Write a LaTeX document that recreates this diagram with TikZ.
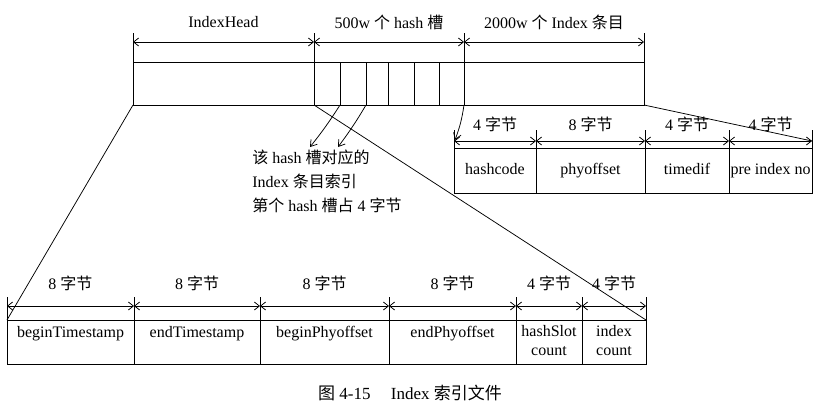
\documentclass[tikz,border=0pt]{standalone}
\usepackage{fontspec}
\setmainfont{Liberation Serif}
\newfontfamily\cjk{Noto Sans CJK SC}
\newcommand{\zh}[1]{{\cjk #1}}
\usetikzlibrary{arrows.meta}

\tikzset{
  txt/.style={font=\fontsize{16}{19}\selectfont},
  cell/.style={draw, txt, anchor=north west, inner sep=0pt, outer sep=0pt, align=center},
  field/.style={cell, text height=11pt, text depth=4pt},
  dim/.style={{Straight Barb[length=5pt,width=8pt]}-{Straight Barb[length=5pt,width=8pt]}},
  pointer/.style={-{Straight Barb[length=6pt,width=8pt]}},
}

\begin{document}
\begin{tikzpicture}[x=1pt,y=-1pt,line width=0.75pt]
  \useasboundingbox (0,0) rectangle (820,407);

  % index file bar
  \node[cell, minimum width=181, minimum height=43] (ihead) at (133,62) {};
  \node[cell, minimum width=26, minimum height=43] (s1) at (314,62) {};
  \node[cell, minimum width=26, minimum height=43] (s2) at (340,62) {};
  \node[cell, minimum width=22, minimum height=43] (s3) at (366,62) {};
  \node[cell, minimum width=26, minimum height=43] (s4) at (388,62) {};
  \node[cell, minimum width=25, minimum height=43] (s5) at (414,62) {};
  \node[cell, minimum width=25, minimum height=43] (s6) at (439,62) {};
  \node[cell, minimum width=180, minimum height=43] (ientry) at (464,62) {};

  \draw[dim] ([yshift=20pt]ihead.north west) -- ([yshift=20pt]ihead.north east)
     node[txt, midway, yshift=20pt] {IndexHead};
  \draw[dim] ([yshift=20pt]s1.north west) -- ([yshift=20pt]s6.north east)
     node[txt, midway, yshift=20pt] {500w \zh{个} hash \zh{槽}};
  \draw[dim] ([yshift=20pt]ientry.north west) -- ([yshift=20pt]ientry.north east)
     node[txt, midway, yshift=20pt] {2000w \zh{个} Index \zh{条目}};
  \foreach \c in {ihead.north west, s1.north west, ientry.north west, ientry.north east}
    \draw ([yshift=29pt]\c) -- (\c);

  % index entry
  \node[field, minimum width=82, minimum height=45] (hc) at (454,148) {hashcode};
  \node[field, minimum width=109, minimum height=45] (po) at (536,148) {phyoffset};
  \node[field, minimum width=84, minimum height=45] (td) at (645,148) {timedif};
  \node[field, minimum width=83, minimum height=45] (pin) at (729,148) {pre index no};
  \foreach \c/\n in {hc/4, po/8, td/4, pin/4} {
    \draw[dim] ([yshift=7pt]\c.north west) -- ([yshift=7pt]\c.north east)
       node[txt, midway, yshift=17pt] {\n\ \zh{字节}};
    \draw ([yshift=18pt]\c.north west) -- (\c.north west);
  }
  \draw ([yshift=18pt]pin.north east) -- (pin.north east);
  \coordinate (pinend) at ([yshift=7pt]pin.north east);

  % index head
  \node[cell, minimum width=127, minimum height=44] (bts) at (7,320) {beginTimestamp\\[-4pt]\strut};
  \node[cell, minimum width=126, minimum height=44] (ets) at (134,320) {endTimestamp\\[-4pt]\strut};
  \node[cell, minimum width=129, minimum height=44] (bpo) at (260,320) {beginPhyoffset\\[-4pt]\strut};
  \node[cell, minimum width=127, minimum height=44] (epo) at (389,320) {endPhyoffset\\[-4pt]\strut};
  \node[cell, minimum width=66, minimum height=44, text depth=3pt] (hsc) at (516,320) {hashSlot\\count};
  \node[cell, minimum width=64, minimum height=44, text depth=3pt] (ic) at (582,320) {index\\count};
  \foreach \c/\n in {bts/8, ets/8, bpo/8, epo/8, hsc/4, ic/4} {
    \draw[dim] ([yshift=14pt]\c.north west) -- ([yshift=14pt]\c.north east)
       node[txt, midway, yshift=23pt] {\n\ \zh{字节}};
    \draw ([yshift=23pt]\c.north west) -- (\c.north west);
  }
  \draw ([yshift=23pt]ic.north east) -- (ic.north east);

  % hash slot note
  \node[txt, anchor=north west, align=left, inner sep=0pt, font=\fontsize{16}{24}\selectfont] (note) at (252,150)
    {\zh{该} hash \zh{槽对应的}\\Index \zh{条目索引}\\\zh{第个} hash \zh{槽占} 4 \zh{字节}};
  \coordinate (na) at (310,147);
  \coordinate (nb) at (338,147);

  % connectors
  \draw (ihead.south west) -- (bts.north west);
  \draw (ihead.south east) -- (ic.north east);
  \draw (ientry.south east) -- (pinend);
  \draw[pointer] (s6.south east) to[bend left=6] ([xshift=1pt,yshift=8pt]hc.north west);
  \draw[pointer] (s1.south east) to[bend left=3] (na);
  \draw[pointer] (s2.south east) to[bend left=3] (nb);

  % caption
  \node[txt, font=\fontsize{17}{20}\selectfont] (cap) at (410,393) {\zh{图} 4-15\hspace{1.2em}Index \zh{索引文件}};
\end{tikzpicture}
\end{document}
